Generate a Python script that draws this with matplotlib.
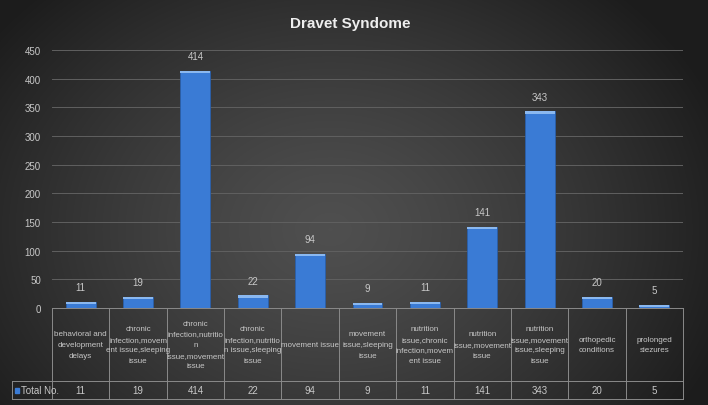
import matplotlib.pyplot as plt
import matplotlib.transforms as mtransforms
import numpy as np

categories = [
    "behavioral and\ndevelopment\ndelays",
    "chronic\ninfection,movem\nent issue,sleeping\nissue",
    "chronic\ninfection,nutritio\nn\nissue,movement\nissue",
    "chronic\ninfection,nutritio\nn issue,sleeping\nissue",
    "movement issue",
    "movement\nissue,sleeping\nissue",
    "nutrition\nissue,chronic\ninfection,movem\nent issue",
    "nutrition\nissue,movement\nissue",
    "nutrition\nissue,movement\nissue,sleeping\nissue",
    "orthopedic\nconditions",
    "prolonged\nsiezures",
]
totals = [11, 19, 414, 22, 94, 9, 11, 141, 343, 20, 5]
series_name = "Total No."
title = "Dravet Syndome"
yticks = list(range(0, 451, 50))

NARROW = ["Liberation Sans Narrow", "Liberation Sans", "DejaVu Sans"]
TXT = "#c8c8c8"

W, H = 708, 406
fig = plt.figure(figsize=(W / 100, H / 100), dpi=100)

# background gradient, lighter in the middle
bg = fig.add_axes([0, 0, 1, 1], zorder=-10)
yy, xx = np.mgrid[0:H, 0:W]
d = np.sqrt(((xx - 330) / 420.0) ** 2 + ((yy - 230) / 330.0) ** 2)
v = 0.31 - 0.20 * np.clip(d, 0, 1) ** 1.3
img = np.dstack([v, v, v])
bg.imshow(img, aspect="auto", extent=[0, 1, 0, 1], origin="upper")
bg.set_axis_off()

def fy(py):
    return 1 - py / H

ax = fig.add_axes([52 / W, fy(309), (683 - 52) / W, (309 - 51) / H])
ax.patch.set_alpha(0)
n = len(categories)
x = np.arange(n)

ax.bar(x, totals, width=0.52, color="#3a7bd5", edgecolor="#2a5faa", linewidth=0.6, zorder=3)
# lighter top rim
ax.bar(x, [4] * n, bottom=np.array(totals) - 4, width=0.52, color="#8ab8f0", linewidth=0, zorder=4)

for xi, val in zip(x, totals):
    ax.annotate(str(val), (xi, val), textcoords="offset points", xytext=(0, 7),
                ha="center", va="bottom", fontsize=7, color=TXT, family=NARROW)

ax.set_xlim(-0.5, n - 0.5)
ax.set_ylim(0, 450)
ax.set_yticks(yticks)
ax.tick_params(axis="y", length=0, labelsize=7, labelcolor=TXT, pad=8)
for lab in ax.get_yticklabels():
    lab.set_family(NARROW)
ax.tick_params(axis="x", length=0, labelbottom=False)
ax.grid(axis="y", color="#606060", linewidth=0.7, zorder=0)
for s in ax.spines.values():
    s.set_visible(False)

fig.text(350 / W, fy(24), title, ha="center", va="center", fontsize=11,
         fontweight="bold", color="#eeeeee", family=NARROW)

# data table under the axis
trans = mtransforms.blended_transform_factory(ax.transData, fig.transFigure)
line_kw = dict(color="#8a8a8a", linewidth=0.7, clip_on=False, transform=fig.transFigure)
x1 = 683 / W
for py in (309, 382, 400):
    fig.add_artist(plt.Line2D([52 / W if py == 309 else 12 / W, x1], [fy(py), fy(py)], **line_kw))
for i in range(n + 1):
    xf = (52 + (683 - 52) * i / n) / W
    fig.add_artist(plt.Line2D([xf, xf], [fy(309), fy(400)], **line_kw))
fig.add_artist(plt.Line2D([12 / W, 12 / W], [fy(382), fy(400)], **line_kw))

for i, (cat, val) in enumerate(zip(categories, totals)):
    fig.text(x[i], fy(345.5), cat, transform=trans, ha="center", va="center",
             fontsize=5.8, color=TXT, linespacing=1.75, family=NARROW)
    fig.text(x[i], fy(391), str(val), transform=trans, ha="center", va="center",
             fontsize=7, color=TXT, family=NARROW)

fig.add_artist(plt.Rectangle((15 / W, fy(393.5)), 4 / W, 5 / H, color="#3a7bd5",
                             transform=fig.transFigure))
fig.text(21 / W, fy(391), series_name, ha="left", va="center", fontsize=7,
         color=TXT, family=NARROW)

fig.savefig("out.png", dpi=100)
